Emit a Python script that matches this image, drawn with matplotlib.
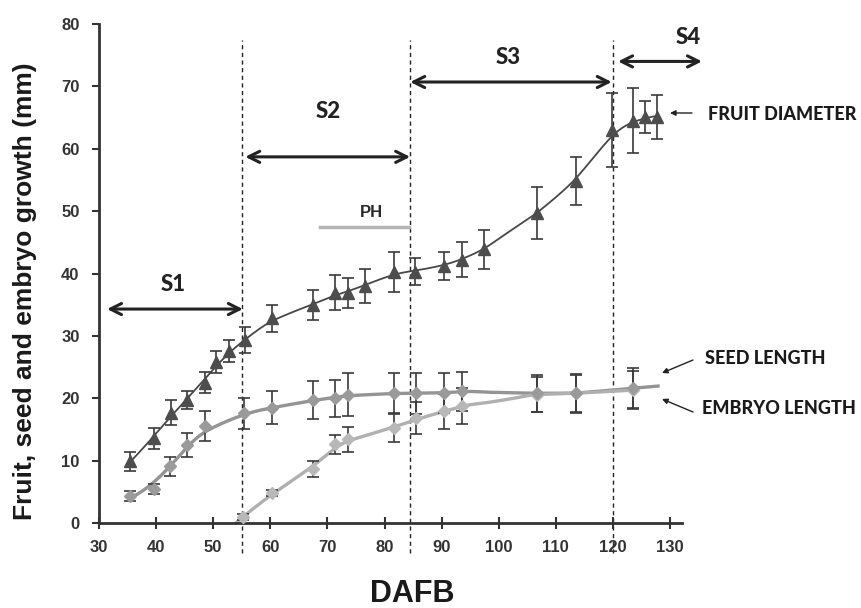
import numpy as np
import matplotlib
matplotlib.use('Agg')
import matplotlib.pyplot as plt

# ---------------- data ----------------
fruit_x = [35.5, 39.7, 42.6, 45.4, 48.5, 50.5, 52.7, 55.5, 60.3, 67.4, 71.3, 73.6,
           76.5, 81.6, 85.4, 90.5, 93.6, 97.4, 106.7, 113.5, 119.8, 123.5, 125.6, 127.7]
fruit_y = [9.9, 13.6, 17.7, 19.7, 22.5, 25.8, 27.6, 29.3, 32.8, 34.9, 36.9, 36.9,
           38.0, 40.3, 40.3, 41.2, 42.2, 43.9, 49.7, 54.8, 63.0, 64.5, 65.1, 65.1]
fruit_err = [1.5, 1.7, 2.0, 1.5, 1.7, 1.7, 1.8, 2.1, 2.1, 2.4, 2.8, 2.4,
             2.8, 3.2, 2.2, 2.3, 2.8, 3.1, 4.1, 3.8, 6.0, 5.2, 2.6, 3.5]

seed_x = [35.5, 39.7, 42.5, 45.4, 48.5, 55.4, 60.3, 67.4, 71.3, 73.6, 81.6, 85.6,
          90.5, 93.6, 106.7, 113.6, 123.5]
seed_y = [4.3, 5.4, 9.1, 12.5, 15.5, 17.6, 18.5, 19.7, 20.0, 20.6, 20.8, 20.8,
          20.8, 21.1, 20.8, 20.8, 21.6]
seed_err = [0.8, 0.8, 1.5, 1.9, 2.4, 2.5, 2.7, 3.1, 3.0, 3.4, 3.2, 3.3,
            3.2, 3.1, 3.0, 3.1, 3.2]

emb_x = [55.3, 60.3, 67.4, 71.3, 73.6, 81.6, 85.6, 90.5, 93.6, 106.7, 113.6, 123.5]
emb_y = [1.0, 4.8, 8.6, 12.6, 13.4, 15.2, 16.8, 17.9, 18.7, 20.6, 20.8, 21.3]
emb_err = [0.5, 0.5, 1.3, 1.5, 2.0, 2.2, 2.6, 2.8, 2.9, 2.8, 3.0, 3.0]

x_ticks = [30, 40, 50, 60, 70, 80, 90, 100, 110, 120, 130]
y_ticks = [0, 10, 20, 30, 40, 50, 60, 70, 80]
stage_bounds = [55, 84.5, 120]


def smooth(x, y, grid, h):
    x = np.asarray(x, float)
    y = np.asarray(y, float)
    out = []
    for g in grid:
        w = np.exp(-0.5 * ((x - g) / h) ** 2)
        X = np.vstack([np.ones_like(x), x - g]).T
        A = X.T @ (w[:, None] * X)
        b = X.T @ (w * y)
        out.append(np.linalg.solve(A, b)[0])
    return np.array(out)


W, H = 862, 608
fig = plt.figure(figsize=(W / 100, H / 100), dpi=100)
ax = fig.add_axes([99 / W, 85 / H, 583 / W, 499 / H])
ax.set_xlim(30, 132.1)
ax.set_ylim(0, 80)

fruit_c = '#4d4d4d'
seed_c = '#9a9a9a'
emb_c = '#b8b8b8'
err_c = '#3a3a3a'

# trend curves
g = np.linspace(fruit_x[0], fruit_x[-1], 300)
ax.plot(g, smooth(fruit_x, fruit_y, g, 3.5), color='#474747', lw=1.3, zorder=2)
g = np.linspace(seed_x[0], 127.9, 300)
ax.plot(g, smooth(seed_x, seed_y, g, 4.0), color='#949494', lw=2.4, zorder=2)
g = np.linspace(52.6, seed_x[-1], 300)
ax.plot(g, smooth(emb_x, emb_y, g, 4.0), color='#b0b0b0', lw=2.4, zorder=2)

# points with error bars
ax.errorbar(emb_x, emb_y, yerr=emb_err, fmt='D', color=emb_c, ms=6, ecolor=err_c,
            elinewidth=1.2, capsize=4, capthick=1.2, zorder=3)
ax.errorbar(seed_x, seed_y, yerr=seed_err, fmt='D', color=seed_c, ms=6, ecolor=err_c,
            elinewidth=1.2, capsize=4, capthick=1.2, zorder=3)
ax.errorbar(fruit_x, fruit_y, yerr=fruit_err, fmt='^', color=fruit_c, ms=8, ecolor=err_c,
            elinewidth=1.2, capsize=4, capthick=1.2, zorder=4)

# stage boundaries
for xb in stage_bounds:
    ax.plot([xb, xb], [-4.8, 77.4], ls=(0, (3, 2.5)), lw=1.0, color='#222222',
            clip_on=False, zorder=1)

# stage arrows
arrow_kw = dict(arrowstyle='<->', lw=2.2, color='#222222', mutation_scale=20,
                shrinkA=0, shrinkB=0)
stages = [('S1', 31.4, 55.2, 34.3, 43.0, 38.2),
          ('S2', 55.6, 84.5, 58.7, 70.1, 65.9),
          ('S3', 84.5, 119.8, 70.7, 101.6, 74.6),
          ('S4', 120.9, 135.6, 74.0, 133.1, 77.9)]
for lab, x0, x1, ya, xt, yt in stages:
    ax.annotate('', xy=(x1, ya), xytext=(x0, ya), arrowprops=arrow_kw,
                annotation_clip=False)
    ax.text(xt, yt, lab, ha='center', va='center', fontsize=16, fontweight='black',
            family='Lato', color='#222222', clip_on=False)

# PH
ax.plot([68.7, 84.3], [47.5, 47.5], color='#b5b5b5', lw=2.5)
ax.text(77.7, 49.8, 'PH', ha='center', va='center', fontsize=12, fontweight='bold',
        family='Liberation Sans', color='#2a2a2a')

# axes styling
for s in ['top', 'right']:
    ax.spines[s].set_visible(False)
for s in ['left', 'bottom']:
    ax.spines[s].set_linewidth(2)
    ax.spines[s].set_color('#333333')
ax.set_xticks(x_ticks)
ax.set_yticks(y_ticks)
ax.tick_params(axis='x', direction='inout', length=8, width=1.5, color='#333333', pad=8)
ax.tick_params(axis='y', direction='out', length=5, width=1.5, color='#333333', pad=9)
for lbl in ax.get_xticklabels() + ax.get_yticklabels():
    lbl.set_fontsize(12)
    lbl.set_fontweight('bold')
    lbl.set_family('Liberation Sans')
    lbl.set_color('#333333')

fig.text(25 / W, 1 - 291 / H, 'Fruit, seed and embryo growth (mm)', rotation=90,
         ha='center', va='center', fontsize=19, fontweight='bold',
         family='Liberation Sans', color='#1a1a1a')
fig.text(412 / W, 1 - 594 / H, 'DAFB', ha='center', va='center', fontsize=22,
         fontweight='bold', family='Liberation Sans', color='#1a1a1a')

# right-side labels
lab_kw = dict(va='center', ha='left', fontsize=13, fontweight='black', family='Lato',
              color='#1a1a1a')
fig.text(708 / W, 1 - 114 / H, 'FRUIT DIAMETER', **lab_kw)
fig.text(705 / W, 1 - 358 / H, 'SEED LENGTH', **lab_kw)
fig.text(702 / W, 1 - 409 / H, 'EMBRYO LENGTH', **lab_kw)

small_arrow = dict(arrowstyle='-|>', lw=1.0, color='#222222', mutation_scale=8,
                   shrinkA=0, shrinkB=0)
for (tx, ty), (hx, hy) in [((692, 113), (670, 113)),
                           ((693, 360), (662, 373)),
                           ((693, 412), (662, 399))]:
    fig.add_artist(matplotlib.patches.FancyArrowPatch(
        (tx / W, 1 - ty / H), (hx / W, 1 - hy / H), transform=fig.transFigure,
        **small_arrow))

fig.savefig('out.png', dpi=100)
